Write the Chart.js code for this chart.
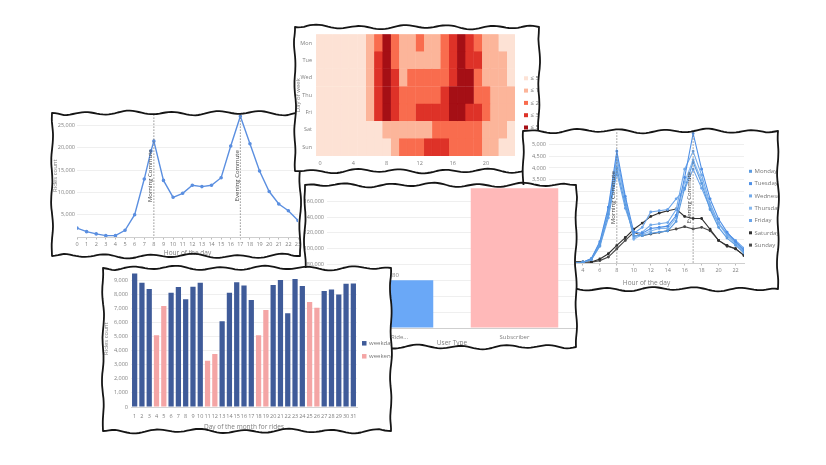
<!DOCTYPE html>
<html>
<head>
<meta charset="utf-8">
<script src="https://cdn.jsdelivr.net/npm/chart.js@4.4.0/dist/chart.umd.min.js"></script>
<style>
  html, body { margin: 0; padding: 0; background: #fff; width: 826px; height: 465px; overflow: hidden; }
  .card { position: absolute; }
  .clip { position: absolute; left: 0; top: 0; right: 0; bottom: 0; background: #fff; overflow: hidden; }
  .clip > div { position: absolute; }
  canvas { filter: blur(0.25px); }
  svg.edge { position: absolute; left: 0; top: 0; overflow: visible; pointer-events: none; }
</style>
</head>
<body>

<div class="card" id="cardHourly" style="left:52px;top:113px;width:248px;height:143px;z-index:1">
  <div class="clip"><div style="left:0;top:-4px"><canvas id="hourlyChart" width="254" height="150"></canvas></div></div>
</div>

<div class="card" id="cardHeat" style="left:295px;top:27px;width:244px;height:144px;z-index:2">
  <div class="clip"><div style="left:0;top:0"><canvas id="heatChart" width="250" height="144"></canvas></div></div>
</div>

<div class="card" id="cardProfile" style="left:523px;top:131px;width:255px;height:158px;z-index:3">
  <div class="clip"><div style="left:0;top:-5px"><canvas id="profileChart" width="262" height="163"></canvas></div></div>
</div>

<div class="card" id="cardUser" style="left:305px;top:185px;width:271px;height:162px;z-index:4">
  <div class="clip"><div style="left:0;top:-6px"><canvas id="userChart" width="277" height="169"></canvas></div></div>
</div>

<div class="card" id="cardDaily" style="left:103px;top:268px;width:288px;height:163px;z-index:5">
  <div class="clip"><div style="left:0;top:-4px"><canvas id="dailyChart" width="299" height="169"></canvas></div></div>
</div>

<script>
// ---------- data ----------
const hoursOfDay = [0,1,2,3,4,5,6,7,8,9,10,11,12,13,14,15,16,17,18,19,20,21,22,23];

// rides per hour (all days)
const rideHours  = [0,1,2,3,4,5,6,7,7.7,8,9,10,11,12,13,14,15,16,17,18,19,20,21,22,23];
const rideTotals = [2000,1200,700,300,300,1500,5000,13000,19300,21500,12700,8900,9800,11600,11300,11600,13300,20400,27100,20900,14800,10200,7400,5900,3700];
const rideYTicks = [0,5000,10000,15000,20000,25000];
const commuteHours = [8, 17];
const commuteNames = ["Morning Commute", "Evening Commute"];

// heatmap: bin level (0-4) for each day and hour
const weekDays = ["Mon","Tue","Wed","Thu","Fri","Sat","Sun"];
const heatLevels = [
  [0,0,0,0,0,0,1,2,4,2,1,1,2,1,1,2,3,4,3,2,1,1,0,0],
  [0,0,0,0,0,0,1,3,4,2,1,1,1,1,1,2,3,4,3,3,1,1,1,0],
  [0,0,0,0,0,0,1,3,4,3,1,2,2,2,2,2,3,4,4,2,1,1,1,0],
  [0,0,0,0,0,0,1,3,4,3,2,2,2,2,2,3,4,4,4,2,2,1,1,1],
  [0,0,0,0,0,0,1,3,4,3,2,2,3,3,3,3,4,4,3,3,2,1,1,1],
  [0,0,0,0,0,0,0,0,1,1,1,1,1,1,2,2,2,2,2,2,1,1,1,0],
  [0,0,0,0,0,0,0,0,0,1,2,2,2,3,3,3,2,2,2,2,1,1,0,0]
];
const heatBins = [558, 1347, 2087, 3392, 5435];
const heatXTicks = [0,4,8,12,16,20];

// hourly profile per weekday
const dayNames = ["Monday","Tuesday","Wednesday","Thursday","Friday","Saturday","Sunday"];
const profileMon = [70,40,25,20,30,150,750,2050,4000,2450,1150,1150,1250,1300,1350,1750,3150,4250,3350,2250,1500,1050,750,420];
const profileTue = [50,30,20,15,30,190,900,2350,4700,2800,1300,1250,1450,1500,1550,2000,3600,5450,3950,2700,1850,1300,900,550];
const profileWed = [55,30,20,15,30,175,850,2250,4450,2700,1050,1300,1600,1650,1700,2250,3950,4700,3700,2500,1700,1200,850,500];
const profileThu = [55,35,20,15,30,165,800,2150,4250,2600,1000,1200,1350,1450,1450,1900,3400,4350,3500,2400,1650,1150,800,480];
const profileFri = [80,50,30,20,30,140,700,1900,3800,2300,1250,1500,2150,2200,2250,2700,3100,3950,3150,2300,1650,1250,950,620];
const profileSat = [300,200,120,50,40,40,170,390,740,1070,1420,1680,1960,2100,2200,2270,1960,1870,1870,1420,950,740,600,320];
const profileSun = [320,220,140,60,40,30,100,250,600,950,1290,1150,1220,1290,1360,1430,1530,1430,1500,1360,950,700,600,320];
const profileYTicks = [0,500,1000,1500,2000,2500,3000,3500,4000,4500,5000];
const profileXTicks = [0,2,4,6,8,10,12,14,16,18,20,22];

// rides by user type
const userTypes = ["Casual Rider", "Subscriber"];
const userRides = [60180, 176300];
const userYTicks = [0,20000,40000,60000,80000,100000,120000,140000,160000];

// rides per day of the month
const monthDays  = [1,2,3,4,5,6,7,8,9,10,11,12,13,14,15,16,17,18,19,20,21,22,23,24,25,26,27,28,29,30,31];
const dailyRides = [9470,8810,8370,5100,7170,8110,8510,7640,8530,8810,3290,3760,6090,8110,8860,8620,7590,5100,6890,8650,9020,6650,9090,8580,7450,7050,8230,8340,7990,8740,8770];
const weekendDays = [4,5,11,12,18,19,25,26];
const dailyYTicks = [0,1000,2000,3000,4000,5000,6000,7000,8000,9000];

// ---------- look ----------
Chart.defaults.font.family = "'Open Sans', 'DejaVu Sans', sans-serif";
Chart.defaults.font.size = 6;
Chart.defaults.color = "#808080";

const fmt = v => Number(v).toLocaleString("en-US");
const fixTicks = list => scale => { scale.ticks = list.map(v => ({ value: v })); };

// dashed commute markers with rotated caption
const commutePlugin = {
  id: "commute",
  afterDatasetsDraw(chart, args, opts) {
    if (!opts.hours) return;
    const { ctx, chartArea, scales } = chart;
    ctx.save();
    opts.hours.forEach((h, i) => {
      const x = scales.x.getPixelForValue(h);
      ctx.setLineDash([1.5, 1.5]);
      ctx.strokeStyle = "#777";
      ctx.lineWidth = 0.8;
      ctx.beginPath();
      ctx.moveTo(x, chartArea.top);
      ctx.lineTo(x, chartArea.bottom);
      ctx.stroke();
      ctx.setLineDash([]);
      ctx.save();
      ctx.translate(x - 0.5, chartArea.top + (chartArea.bottom - chartArea.top) * 0.5);
      ctx.rotate(-Math.PI / 2);
      ctx.fillStyle = "#444";
      ctx.font = "6px 'Open Sans', sans-serif";
      ctx.textAlign = "center";
      ctx.textBaseline = "bottom";
      ctx.fillText(opts.names[i], 0, 0);
      ctx.restore();
    });
    ctx.restore();
  }
};

// legend drawn beside the plot area
const sideLegend = {
  id: "sideLegend",
  afterDraw(chart, args, o) {
    if (!o.items) return;
    const { ctx, chartArea } = chart;
    ctx.save();
    ctx.font = "6px 'Open Sans', sans-serif";
    ctx.textBaseline = "middle";
    o.items.forEach((it, i) => {
      const x = chartArea.right + o.dx;
      const y = chartArea.top + o.dy + i * o.step;
      ctx.fillStyle = it.color;
      ctx.fillRect(x, y - o.box / 2, o.box, o.box);
      ctx.fillStyle = "#777";
      ctx.fillText(it.text, x + o.box + 2.5, y);
    });
    ctx.restore();
  }
};

// value printed above each bar
const barValues = {
  id: "barValues",
  afterDatasetsDraw(chart, args, o) {
    if (!o.show) return;
    const { ctx } = chart;
    ctx.save();
    ctx.font = "6px 'Open Sans', sans-serif";
    ctx.fillStyle = "#888";
    ctx.textAlign = "center";
    ctx.textBaseline = "bottom";
    chart.getDatasetMeta(0).data.forEach((bar, i) => {
      ctx.fillText(fmt(chart.data.datasets[0].data[i]), bar.x, bar.y - 2);
    });
    ctx.restore();
  }
};

// ---------- chart 1: rides by hour ----------
new Chart(document.getElementById("hourlyChart"), {
  type: "line",
  data: {
    datasets: [{
      data: rideHours.map((h, i) => ({ x: h, y: rideTotals[i] })),
      borderColor: "#5b8fe0",
      backgroundColor: "#5b8fe0",
      borderWidth: 1.4,
      pointRadius: 1.1,
      tension: 0
    }]
  },
  options: {
    responsive: false,
    animation: false,
    layout: { padding: { top: 5, right: 8, left: 0, bottom: 0 } },
    plugins: {
      legend: { display: false },
      tooltip: { enabled: false },
      commute: { hours: commuteHours, names: commuteNames }
    },
    scales: {
      x: {
        type: "linear", min: 0, max: 23,
        afterBuildTicks: fixTicks(hoursOfDay),
        afterFit: s => { s.height = 22; },
        grid: { drawOnChartArea: false, tickLength: 2.5, color: "#bbb" },
        border: { color: "#cfcfcf" },
        ticks: { padding: 1.5, autoSkip: false, maxRotation: 0, font: { size: 5.5 } },
        title: { display: true, text: "Hour of the day", padding: { top: 0, bottom: 2 }, font: { size: 6.5 } }
      },
      y: {
        min: 0, max: 27500,
        afterBuildTicks: fixTicks(rideYTicks),
        afterFit: s => { s.width = 25; },
        grid: { color: "#efefef", drawTicks: false },
        border: { display: false },
        ticks: { padding: 2, font: { size: 5.5 }, callback: v => v === 0 ? "" : fmt(v) },
        title: { display: true, text: "Rides count", padding: { top: 0, bottom: 0 }, font: { size: 6 } }
      }
    }
  },
  plugins: [commutePlugin]
});

// ---------- chart 2: heatmap day x hour ----------
const heatColors = ["#fde2d5", "#fcb59a", "#f96c4e", "#de3228", "#a50f15"];
new Chart(document.getElementById("heatChart"), {
  type: "bar",
  data: {
    labels: weekDays,
    datasets: hoursOfDay.map(h => ({
      data: weekDays.map(() => [h - 0.5, h + 0.5]),
      backgroundColor: heatLevels.map(row => heatColors[row[h]]),
      borderColor: heatLevels.map(row => heatColors[row[h]]),
      borderWidth: 0.6,
      borderSkipped: false,
      barPercentage: 1,
      categoryPercentage: 1,
      grouped: false
    }))
  },
  options: {
    indexAxis: "y",
    responsive: false,
    animation: false,
    layout: { padding: { top: 5, right: 30, left: 0, bottom: 0 } },
    plugins: {
      legend: { display: false },
      tooltip: { enabled: false },
      sideLegend: {
        dx: 9, dy: 44, step: 12.3, box: 4,
        items: heatBins.map((b, i) => ({ text: "\u2264 " + fmt(b), color: heatColors[i] }))
      }
    },
    scales: {
      x: {
        type: "linear", min: -0.5, max: 23.5,
        afterBuildTicks: fixTicks(heatXTicks),
        afterFit: s => { s.height = 15; },
        grid: { display: false, drawTicks: false },
        border: { display: false },
        ticks: { padding: 4, autoSkip: false, maxRotation: 0, font: { size: 5.5 } }
      },
      y: {
        afterFit: s => { s.width = 21; },
        grid: { display: false, drawTicks: false },
        border: { display: false },
        ticks: { padding: 4, font: { size: 5.5 } },
        title: { display: true, text: "Day of week", padding: { top: 0, bottom: 0 }, font: { size: 6 } }
      }
    }
  },
  plugins: [sideLegend]
});

// ---------- chart 3: hourly profile per weekday ----------
const profileSeries = [profileMon, profileTue, profileWed, profileThu, profileFri, profileSat, profileSun];
const profileColors = ["#5b9be0", "#4f90e6", "#72aaea", "#86b8ef", "#6aa4ea", "#2f2f2f", "#4a4a4a"];
new Chart(document.getElementById("profileChart"), {
  type: "line",
  data: {
    datasets: profileSeries.map((vals, d) => ({
      label: dayNames[d],
      data: hoursOfDay.map((h, i) => ({ x: h, y: vals[i] })),
      borderColor: profileColors[d],
      backgroundColor: profileColors[d],
      borderWidth: 1.1,
      pointRadius: 0.9,
      tension: 0
    }))
  },
  options: {
    responsive: false,
    animation: false,
    layout: { padding: { top: 5, right: 41, left: 0, bottom: 0 } },
    plugins: {
      legend: { display: false },
      tooltip: { enabled: false },
      commute: { hours: commuteHours, names: commuteNames },
      sideLegend: {
        dx: 5, dy: 39, step: 12.3, box: 3,
        items: dayNames.map((n, d) => ({ text: n, color: profileColors[d] }))
      }
    },
    scales: {
      x: {
        type: "linear", min: 0, max: 23,
        afterBuildTicks: fixTicks(profileXTicks),
        afterFit: s => { s.height = 26; },
        grid: { drawOnChartArea: false, tickLength: 2.5, color: "#bbb" },
        border: { color: "#cfcfcf" },
        ticks: { padding: 2, autoSkip: false, maxRotation: 0, font: { size: 5.5 } },
        title: { display: true, text: "Hour of the day", padding: { top: 2, bottom: 2 }, font: { size: 6.5 } }
      },
      y: {
        min: 0, max: 5500,
        afterBuildTicks: fixTicks(profileYTicks),
        afterFit: s => { s.width = 26; },
        grid: { color: "#efefef", drawTicks: false },
        border: { display: false },
        ticks: { padding: 3, font: { size: 5.5 }, callback: v => fmt(v) }
      }
    }
  },
  plugins: [commutePlugin, sideLegend]
});

// ---------- chart 4: rides by user type ----------
new Chart(document.getElementById("userChart"), {
  type: "bar",
  data: {
    labels: userTypes,
    datasets: [{
      data: userRides,
      backgroundColor: ["#6aa8f7", "#ffb9b9"],
      barPercentage: 0.7,
      categoryPercentage: 1
    }]
  },
  options: {
    responsive: false,
    animation: false,
    layout: { padding: { top: 5, right: 5, left: 0, bottom: 0 } },
    plugins: {
      legend: { display: false },
      tooltip: { enabled: false },
      barValues: { show: true }
    },
    scales: {
      x: {
        afterFit: s => { s.height = 20; },
        grid: { display: false, drawTicks: false },
        border: { color: "#cfcfcf" },
        ticks: {
          padding: 6, font: { size: 6 },
          callback: function (v) {
            const t = this.getLabelForValue(v);
            return t.length > 11 ? t.slice(0, 11) + "..." : t;
          }
        },
        title: { display: true, text: "User Type", padding: { top: 0, bottom: 1 }, font: { size: 6.5 } }
      },
      y: {
        min: 0, max: 180000,
        afterBuildTicks: fixTicks(userYTicks),
        afterFit: s => { s.width = 22; },
        grid: { color: "#efefef", drawTicks: false },
        border: { display: false },
        ticks: { padding: 3, font: { size: 5.5 }, callback: v => fmt(v) }
      }
    }
  },
  plugins: [barValues]
});

// ---------- chart 5: rides per day of month ----------
const weekdayColor = "#3f5b99";
const weekendColor = "#f4a5a5";
new Chart(document.getElementById("dailyChart"), {
  type: "bar",
  data: {
    labels: monthDays,
    datasets: [
      {
        label: "weekday",
        data: monthDays.map((d, i) => weekendDays.includes(d) ? null : dailyRides[i]),
        backgroundColor: weekdayColor,
        barPercentage: 0.72, categoryPercentage: 1, grouped: false
      },
      {
        label: "weekend",
        data: monthDays.map((d, i) => weekendDays.includes(d) ? dailyRides[i] : null),
        backgroundColor: weekendColor,
        barPercentage: 0.72, categoryPercentage: 1, grouped: false
      }
    ]
  },
  options: {
    responsive: false,
    animation: false,
    layout: { padding: { top: 5, right: 45, left: 0, bottom: 0 } },
    plugins: {
      legend: { display: false },
      tooltip: { enabled: false },
      sideLegend: {
        dx: 5, dy: 73, step: 13, box: 4.5,
        items: [{ text: "weekday", color: weekdayColor }, { text: "weekend", color: weekendColor }]
      }
    },
    scales: {
      x: {
        afterFit: s => { s.height = 26; },
        grid: { display: false, drawTicks: false },
        border: { color: "#d5d5d5" },
        ticks: { padding: 6, autoSkip: false, maxRotation: 0, font: { size: 5.5 } },
        title: { display: true, text: "Day of the month for rides", padding: { top: 2, bottom: 2 }, font: { size: 6.5 } }
      },
      y: {
        min: 0, max: 9700,
        afterBuildTicks: fixTicks(dailyYTicks),
        afterFit: s => { s.width = 28; },
        grid: { color: "#efefef", drawTicks: false },
        border: { display: false },
        ticks: { padding: 3, font: { size: 5.5 }, callback: v => fmt(v) },
        title: { display: true, text: "Rides count", padding: { top: 0, bottom: 0 }, font: { size: 6 } }
      }
    }
  },
  plugins: [sideLegend]
});

// ---------- hand drawn frames ----------
function drawEdge(card, ph) {
  const w = card.offsetWidth, h = card.offsetHeight;
  const pts = [];
  function side(x0, y0, x1, y1, nx, ny, k, amp) {
    const len = Math.hypot(x1 - x0, y1 - y0);
    const n = Math.max(2, Math.round(len / 3));
    for (let i = 0; i < n; i++) {
      const t = i / n, s = t * len;
      const taper = Math.min(1, s / 12, (len - s) / 12);
      const o = amp * taper * (Math.sin(s / 7 + k) + 0.5 * Math.sin(s / 17 + 2 * k));
      pts.push((x0 + (x1 - x0) * t + nx * o).toFixed(1) + "," + (y0 + (y1 - y0) * t + ny * o).toFixed(1));
    }
  }
  side(0, 0, w, 0, 0, 1, ph, 1.6);
  side(w, 0, w, h, 1, 0, ph + 1.3, 0.7);
  side(w, h, 0, h, 0, 1, ph + 2.1, 1.6);
  side(0, h, 0, 0, 1, 0, ph + 3.4, 0.7);
  const svg = document.createElementNS("http://www.w3.org/2000/svg", "svg");
  svg.setAttribute("class", "edge");
  svg.setAttribute("width", w);
  svg.setAttribute("height", h);
  const path = document.createElementNS("http://www.w3.org/2000/svg", "path");
  path.setAttribute("d", "M" + pts.join("L") + "Z");
  path.setAttribute("fill", "none");
  path.setAttribute("stroke", "#151515");
  path.setAttribute("stroke-width", "1.8");
  path.setAttribute("stroke-linejoin", "round");
  svg.appendChild(path);
  card.appendChild(svg);
}
["cardHourly", "cardHeat", "cardProfile", "cardUser", "cardDaily"].forEach((id, i) => {
  drawEdge(document.getElementById(id), i * 1.7);
});
</script>
</body>
</html>
